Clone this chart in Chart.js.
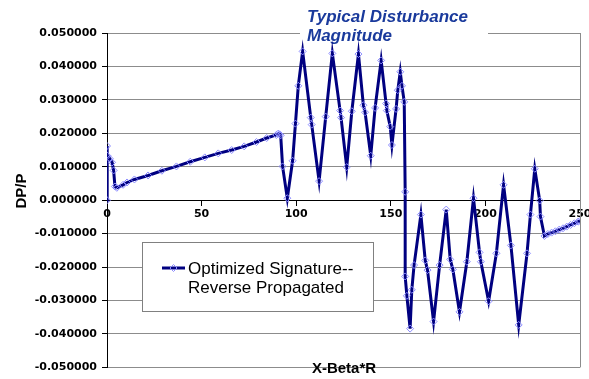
<!DOCTYPE html>
<html>
<head>
<meta charset="utf-8">
<script src="https://cdn.jsdelivr.net/npm/chart.js@4"></script>
<style>
  html, body { margin: 0; padding: 0; background: #fff; overflow: hidden; }
</style>
</head>
<body>
<canvas id="sigChart" width="600" height="379"></canvas>
<script>
// X-Beta*R values
const xBetaR = [
  0, 0, 0.2, 1.5, 2.7, 3.5, 4.2, 5.2, 8.5, 10.6, 14.5, 21.7, 29, 36.7, 44, 51.7, 58.8, 65.9,
  72.5, 79, 84.4, 89.5, 90.5, 91.2, 91.8, 92.8, 95.3, 98.1, 99.6, 101.1, 103.4, 107.7, 108.2,
  112.1, 115.6, 119.1, 123.2, 123.7, 126.7, 129.4, 132.9, 135.5, 136.4, 139.4, 141.7, 144.9,
  147.5, 147.9, 149.7, 150.6, 152.8, 153.7, 155.0, 155.9, 157.1, 157.6, 157.6, 158.5, 160.2,
  161.1, 162.3, 165.9, 168.2, 169.4, 172.6, 175.8, 179.3, 181.4, 182.8, 186.3, 190.2, 193.7,
  196.9, 197.6, 201.7, 205.8, 209.6, 213.5, 217.6, 222.0, 223.8, 226.1, 228.7, 229.1, 231.2,
  233, 235, 237, 239, 241, 243, 245, 247, 249, 250
];
// DP/P values
const dpOverP = [
  0, 0.0162, 0.0133, 0.0124, 0.0113, 0.0089, 0.0041, 0.0037, 0.0046, 0.0053, 0.0062, 0.0074,
  0.0088, 0.0101, 0.0115, 0.0128, 0.0140, 0.0150, 0.0161, 0.0174, 0.0186, 0.0195, 0.0199,
  0.0197, 0.0194, 0.0101, 0.0006, 0.0118, 0.0229, 0.0342, 0.0445, 0.0247, 0.0226, 0.0057,
  0.0250, 0.0439, 0.0268, 0.0247, 0.0099, 0.0266, 0.0437, 0.0284, 0.0263, 0.0133, 0.0276,
  0.0418, 0.0289, 0.0268, 0.0220, 0.0165, 0.0273, 0.0329, 0.0384, 0.0342, 0.0294, 0.0025,
  -0.0228, -0.0286, -0.0384, -0.0268, -0.0194, -0.0043, -0.0180, -0.0209, -0.0363, -0.0194,
  -0.0028, -0.0177, -0.0207, -0.0334, -0.0184, 0.0006, -0.0156, -0.0184, -0.0302, -0.0159,
  0.0046, -0.0135, -0.0373, -0.0159, -0.0043, 0.0094, -0.0001, -0.0049, -0.0107, -0.0101,
  -0.0097, -0.0093, -0.0088, -0.0084, -0.0079, -0.0074, -0.0069, -0.0064, -0.0062
];
const xTickValues = [0, 50, 100, 150, 200, 250];
const yTickValues = [-0.05, -0.04, -0.03, -0.02, -0.01, 0, 0.01, 0.02, 0.03, 0.04, 0.05];
const seriesName = ["Optimized Signature--", "Reverse Propagated"];
const chartTitle = ["Typical Disturbance", "Magnitude"];
const xTitle = "X-Beta*R";
const yTitle = "DP/P";

const lineColor = "#000080";
const markerColor = "#8c8cff";

// extra drawing: title box, right border, legend, axis titles
const decorPlugin = {
  id: "decor",
  beforeDatasetsDraw(chart) {
    const ctx = chart.ctx;
    const a = chart.chartArea;
    ctx.save();
    // right border of plot
    ctx.strokeStyle = "#8c8c8c";
    ctx.lineWidth = 1;
    ctx.beginPath();
    ctx.moveTo(Math.round(a.right) + 0.5, a.top);
    ctx.lineTo(Math.round(a.right) + 0.5, a.bottom);
    ctx.stroke();
    // title on white box
    ctx.fillStyle = "#fff";
    ctx.fillRect(300, 0, 188, 46);
    ctx.fillStyle = "#1a3a9c";
    ctx.font = "italic bold 17px 'Liberation Sans', Arial, sans-serif";
    ctx.textAlign = "left";
    ctx.textBaseline = "alphabetic";
    ctx.fillText(chartTitle[0], 307, 22);
    ctx.fillText(chartTitle[1], 307, 41);
    ctx.restore();
  },
  afterDatasetsDraw(chart) {
    const ctx = chart.ctx;
    ctx.save();
    // legend
    ctx.fillStyle = "#fff";
    ctx.fillRect(142, 242, 232, 70);
    ctx.strokeStyle = "#808080";
    ctx.lineWidth = 1;
    ctx.strokeRect(142.5, 242.5, 231, 69);
    ctx.strokeStyle = lineColor;
    ctx.lineWidth = 3;
    ctx.beginPath();
    ctx.moveTo(162, 268);
    ctx.lineTo(185, 268);
    ctx.stroke();
    ctx.strokeStyle = markerColor;
    ctx.lineWidth = 1;
    ctx.beginPath();
    ctx.moveTo(173.5, 264.5);
    ctx.lineTo(177, 268);
    ctx.lineTo(173.5, 271.5);
    ctx.lineTo(170, 268);
    ctx.closePath();
    ctx.stroke();
    ctx.fillStyle = "#000";
    ctx.font = "17px 'Liberation Sans', Arial, sans-serif";
    ctx.textAlign = "left";
    ctx.textBaseline = "alphabetic";
    ctx.fillText(seriesName[0], 188, 274);
    ctx.fillText(seriesName[1], 188, 293);
    // axis titles
    ctx.font = "bold 15px 'Liberation Sans', Arial, sans-serif";
    ctx.textAlign = "center";
    ctx.textBaseline = "middle";
    ctx.fillText(xTitle, 344, 369);
    ctx.translate(22, 191);
    ctx.rotate(-Math.PI / 2);
    ctx.fillText(yTitle, 0, 0);
    ctx.restore();
  }
};

const ctx = document.getElementById("sigChart").getContext("2d");
new Chart(ctx, {
  type: "line",
  data: {
    datasets: [{
      label: seriesName.join(" "),
      data: xBetaR.map((x, i) => ({ x: x, y: dpOverP[i] })),
      borderColor: lineColor,
      borderWidth: 3,
      tension: 0,
      pointStyle: "rectRot",
      pointRadius: 3.5,
      pointBorderWidth: 1,
      pointBorderColor: markerColor,
      pointBackgroundColor: "rgba(255,255,255,0)",
      fill: false
    }]
  },
  options: {
    responsive: false,
    animation: false,
    layout: { padding: { top: 33, right: 20, bottom: 4, left: 0 } },
    plugins: {
      legend: { display: false },
      tooltip: { enabled: false }
    },
    scales: {
      x: {
        type: "linear",
        min: 0,
        max: 250,
        position: { y: 0 },
        afterBuildTicks: s => { s.ticks = xTickValues.map(v => ({ value: v })); },
        afterFit: s => { s.height = 26; },
        grid: { drawOnChartArea: false, drawTicks: true, tickLength: 5, tickColor: "#000" },
        border: { color: "#000", width: 1 },
        ticks: {
          color: "#000",
          padding: 2,
          maxRotation: 0,
          font: { family: "DejaVu Sans", weight: "bold", size: 11 }
        }
      },
      y: {
        min: -0.05,
        max: 0.05,
        afterBuildTicks: s => { s.ticks = yTickValues.map(v => ({ value: v })); },
        afterFit: s => { s.width = 107; },
        grid: { color: "#8c8c8c", tickLength: 5, tickColor: "#000" },
        border: { color: "#000", width: 1 },
        ticks: {
          color: "#000",
          padding: 5,
          callback: v => v.toFixed(6),
          font: { family: "DejaVu Sans", weight: "bold", size: 11 }
        }
      }
    }
  },
  plugins: [decorPlugin]
});
</script>
</body>
</html>
